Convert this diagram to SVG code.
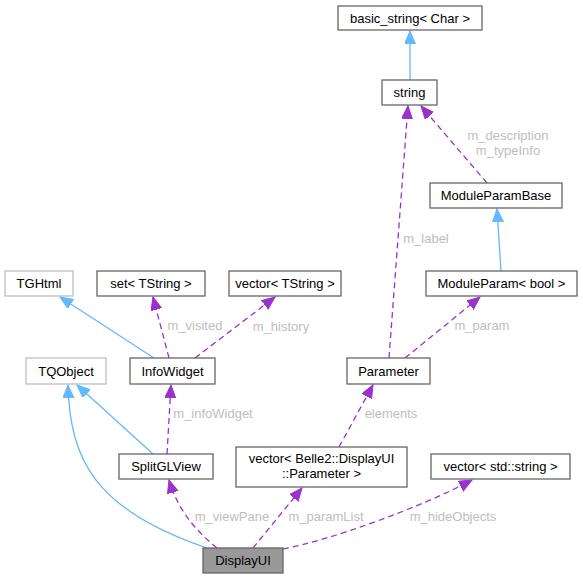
<svg xmlns="http://www.w3.org/2000/svg" width="583" height="580" viewBox="0 0 583 580">
<style>
.n rect{fill:#ffffff;stroke:#666666;stroke-width:1.3}
.n.g rect{stroke:#bfbfbf}
.n.main rect{fill:#999999}
.n text{font-family:"Liberation Sans",Arial,sans-serif;font-size:13px;fill:#000000;text-anchor:middle}
.e path{fill:none;stroke-width:1.3}
.inh{stroke:#63b8ff}
.use{stroke:#9a32cd;stroke-dasharray:6,4}
.lbl{font-family:"Liberation Sans",Arial,sans-serif;font-size:13px;fill:#bebebe;text-anchor:middle}
</style>
<defs>
<marker id="ab" markerUnits="userSpaceOnUse" markerWidth="14" markerHeight="12" refX="13" refY="5.5" orient="auto">
<path d="M0,0 L13,5.5 L0,11 z" fill="#63b8ff" stroke="#63b8ff" stroke-width="1"/>
</marker>
<marker id="ap" markerUnits="userSpaceOnUse" markerWidth="14" markerHeight="12" refX="13" refY="5.5" orient="auto">
<path d="M0,0 L13,5.5 L0,11 z" fill="#9a32cd" stroke="#9a32cd" stroke-width="1"/>
</marker>
</defs>
<g id="edges" class="e">
<path class="inh" d="M410,80 L410,31" marker-end="url(#ab)"/>
<path class="use" d="M487,183 L421,106" marker-end="url(#ap)"/>
<path class="inh" d="M501,271 L497,209" marker-end="url(#ab)"/>
<path class="use" d="M389,358 L408,106" marker-end="url(#ap)"/>
<path class="use" d="M405,358 L480,297" marker-end="url(#ap)"/>
<path class="use" d="M339,447 L373,385" marker-end="url(#ap)"/>
<path class="use" d="M253,548 L302,488" marker-end="url(#ap)"/>
<path class="use" d="M283,549 C330,540 420,508 472,480" marker-end="url(#ap)"/>
<path class="use" d="M217,548 C195,530 178,510 169,480" marker-end="url(#ap)"/>
<path class="inh" d="M207,548 C95,510 70,460 68,385" marker-end="url(#ab)"/>
<path class="inh" d="M153,454 L77,385" marker-end="url(#ab)"/>
<path class="use" d="M167,454 L171,385" marker-end="url(#ap)"/>
<path class="inh" d="M154,358 L60,297" marker-end="url(#ab)"/>
<path class="use" d="M169,358 L153,297" marker-end="url(#ap)"/>
<path class="use" d="M195,358 L275,297" marker-end="url(#ap)"/>
<text class="lbl" x="508" y="140">m_description</text>
<text class="lbl" x="508" y="155">m_typeInfo</text>
<text class="lbl" x="426" y="243">m_label</text>
<text class="lbl" x="482" y="330">m_param</text>
<text class="lbl" x="391" y="418">elements</text>
<text class="lbl" x="326" y="521">m_paramList</text>
<text class="lbl" x="453" y="521">m_hideObjects</text>
<text class="lbl" x="232" y="521">m_viewPane</text>
<text class="lbl" x="213" y="418">m_infoWidget</text>
<text class="lbl" x="195" y="330">m_visited</text>
<text class="lbl" x="281" y="331">m_history</text>
</g>
<g id="basic_string" class="n"><rect x="338" y="6" width="144" height="24"/><text x="410" y="22.5">basic_string&lt; Char &gt;</text></g>
<g id="string" class="n"><rect x="382" y="80" width="55" height="25"/><text x="409.5" y="97">string</text></g>
<g id="ModuleParamBase" class="n"><rect x="430" y="183" width="132" height="25"/><text x="496" y="200">ModuleParamBase</text></g>
<g id="ModuleParam_bool" class="n"><rect x="426" y="271" width="151" height="25"/><text x="501.5" y="288">ModuleParam&lt; bool &gt;</text></g>
<g id="TGHtml" class="n g"><rect x="5" y="271" width="68" height="25"/><text x="39" y="288">TGHtml</text></g>
<g id="set_TString" class="n"><rect x="97" y="271" width="108" height="25"/><text x="151" y="288">set&lt; TString &gt;</text></g>
<g id="vector_TString" class="n"><rect x="229" y="271" width="112" height="25"/><text x="285" y="288">vector&lt; TString &gt;</text></g>
<g id="TQObject" class="n g"><rect x="26" y="358" width="80" height="26"/><text x="66" y="375.5">TQObject</text></g>
<g id="InfoWidget" class="n"><rect x="130" y="358" width="85" height="26"/><text x="172.5" y="375.5">InfoWidget</text></g>
<g id="Parameter" class="n"><rect x="347" y="358" width="83" height="26"/><text x="388.5" y="375.5">Parameter</text></g>
<g id="SplitGLView" class="n"><rect x="119" y="454" width="94" height="25"/><text x="166" y="471">SplitGLView</text></g>
<g id="vector_Parameter" class="n"><rect x="236" y="447" width="171" height="40"/><text x="321.5" y="463">vector&lt; Belle2::DisplayUI</text><text x="321.5" y="478">::Parameter &gt;</text></g>
<g id="vector_std_string" class="n"><rect x="431" y="454" width="139" height="25"/><text x="500.5" y="471">vector&lt; std::string &gt;</text></g>
<g id="DisplayUI" class="n main"><rect x="203" y="548" width="80" height="25"/><text x="243" y="565">DisplayUI</text></g>
</svg>
